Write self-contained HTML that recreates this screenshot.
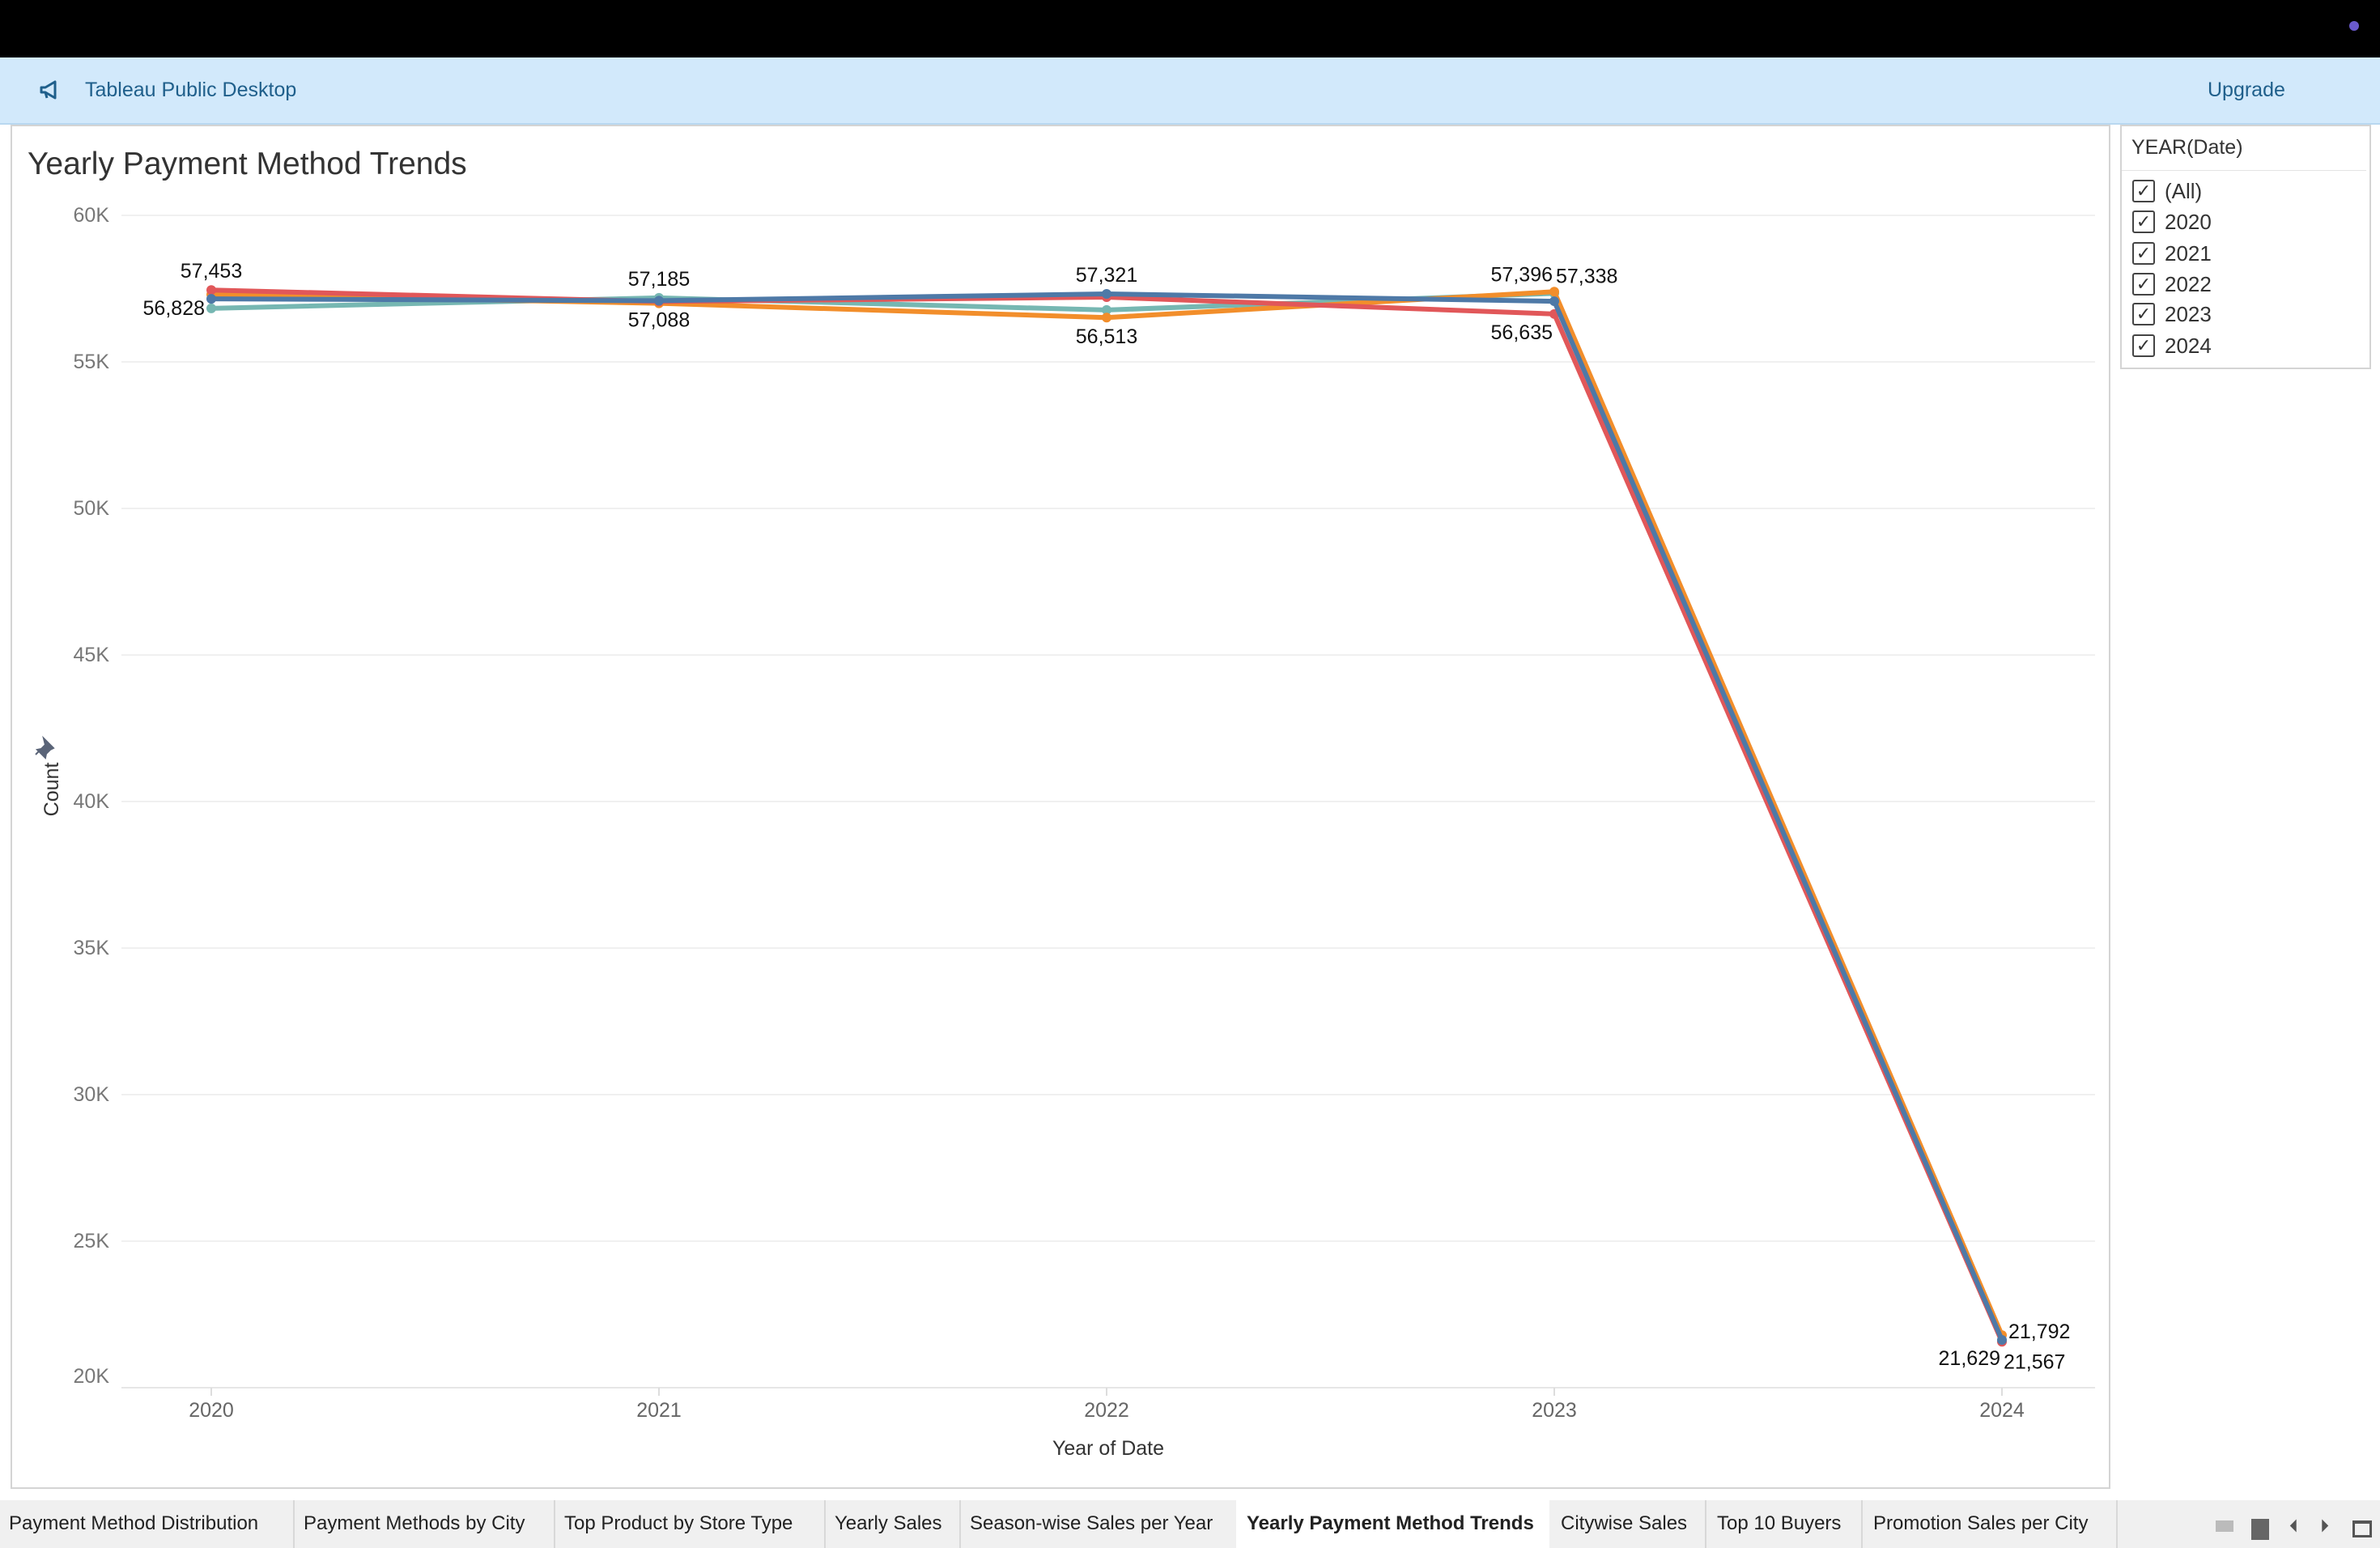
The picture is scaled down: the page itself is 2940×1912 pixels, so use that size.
<!DOCTYPE html>
<html><head><meta charset="utf-8"><style>
body{margin:0;width:2940px;height:1912px;position:relative;background:#fff;font-family:"Liberation Sans",sans-serif;overflow:hidden}
.abs{position:absolute}
.tab{position:absolute;top:1853px;height:59px;line-height:57px;font-size:24px;color:#222;white-space:nowrap}
.sep{position:absolute;top:1853px;width:2px;height:59px;background:#d8d8d8}
.item{position:absolute;left:2634px;font-size:26px;color:#333;height:30px;line-height:30px}
.cb{display:inline-block;width:24px;height:24px;border:2px solid #444;border-radius:3px;vertical-align:middle;margin-right:12px;position:relative;top:-2px;text-align:center;line-height:24px;font-size:22px}
</style></head><body>
<div class="abs" style="left:0;top:0;width:2940px;height:71px;background:#000"></div>
<div class="abs" style="left:2902px;top:26px;width:12px;height:12px;border-radius:6px;background:#6a5acd"></div>
<div class="abs" style="left:0;top:71px;width:2940px;height:81px;background:#d2e9fb;border-bottom:2px solid #b8d8f0"></div>
<svg class="abs" style="left:48px;top:99px" width="28" height="24" viewBox="0 0 28 24"><path d="M3 9h5l12-7v20L8 15H3z" fill="none" stroke="#1f5f8b" stroke-width="3" stroke-linejoin="round"/><path d="M8 15l2 7" stroke="#1f5f8b" stroke-width="3"/></svg>
<div class="abs" style="left:105px;top:97px;font-size:25px;color:#1f5f8b">Tableau Public Desktop</div>
<div class="abs" style="left:2727px;top:97px;font-size:25px;color:#1f5f8b">Upgrade</div>
<div class="abs" style="left:13px;top:154px;width:2590px;height:1681px;border:2px solid #d4d4d4"></div>
<div class="abs" style="left:34px;top:181px;font-size:39px;color:#333">Yearly Payment Method Trends</div>
<div class="abs" style="left:2619px;top:154px;width:306px;height:298px;border:2px solid #d4d4d4"></div>
<div class="abs" style="left:2633px;top:168px;font-size:25px;color:#333">YEAR(Date)</div>
<div class="abs" style="left:2621px;top:210px;width:302px;height:1px;background:#e4e4e4"></div>
<div class="item" style="top:221px"><span class="cb">✓</span>(All)</div>
<div class="item" style="top:259px"><span class="cb">✓</span>2020</div>
<div class="item" style="top:298px"><span class="cb">✓</span>2021</div>
<div class="item" style="top:336px"><span class="cb">✓</span>2022</div>
<div class="item" style="top:373px"><span class="cb">✓</span>2023</div>
<div class="item" style="top:412px"><span class="cb">✓</span>2024</div>

<svg class="abs" style="left:0;top:0" width="2940" height="1850" id="chart"></svg>

<div class="abs" style="left:0;top:1853px;width:2940px;height:59px;background:#f0f0f0"></div>
<div class="tab" style="left:11px">Payment Method Distribution</div>
<div class="sep" style="left:362px"></div>
<div class="tab" style="left:375px">Payment Methods by City</div>
<div class="sep" style="left:684px"></div>
<div class="tab" style="left:697px">Top Product by Store Type</div>
<div class="sep" style="left:1018px"></div>
<div class="tab" style="left:1031px">Yearly Sales</div>
<div class="sep" style="left:1185px"></div>
<div class="tab" style="left:1198px">Season-wise Sales per Year</div>
<div class="abs" style="left:1527px;top:1853px;width:387px;height:59px;background:#fff"></div>
<div class="tab" style="left:1540px;font-weight:bold">Yearly Payment Method Trends</div>
<div class="tab" style="left:1928px">Citywise Sales</div>
<div class="sep" style="left:2106px"></div>
<div class="tab" style="left:2121px">Top 10 Buyers</div>
<div class="sep" style="left:2299px"></div>
<div class="tab" style="left:2314px">Promotion Sales per City</div>
<div class="sep" style="left:2614px"></div>
<div class="abs" style="left:2737px;top:1878px;width:22px;height:14px;background:#bbb"></div>
<div class="abs" style="left:2781px;top:1876px;width:22px;height:26px;background:#666"></div>
<div class="abs" style="left:2828px;top:1872px;font-size:22px;color:#555">⏴</div>
<div class="abs" style="left:2866px;top:1872px;font-size:22px;color:#555">⏵</div>
<div class="abs" style="left:2906px;top:1878px;width:18px;height:14px;border:3px solid #555;border-top-width:4px"></div>

<script>
const years = ["2020","2021","2022","2023","2024"];
const seriesNames = ["teal","orange","red","blue"];
const tealVals   = [56828, 57185, 56770, 57338, 21600];
const orangeVals = [57300, 57000, 56513, 57396, 21792];
const redVals    = [57453, 57060, 57210, 56635, 21567];
const blueVals   = [57150, 57088, 57321, 57070, 21629];
const yTicks = [20000,25000,30000,35000,40000,45000,50000,55000,60000];
const yTickLabels = ["20K","25K","30K","35K","40K","45K","50K","55K","60K"];
const labelSeries = [2,0,0,3,3,1,1,0,2,1,3,2];
const labelYear   = [0,0,1,1,2,2,3,3,3,4,4,4];
const labelPlace  = ["above","left","above","below","above","below","aboveL","aboveR","belowL","right","belowL","belowR"];

const colors = ["#76b7b2","#f28e2b","#e15759","#4e79a7"];
const allVals = [tealVals, orangeVals, redVals, blueVals];
const svg = document.getElementById('chart');
const NS = "http://www.w3.org/2000/svg";
const x = i => 261 + i*553;
const y = v => 266 + (60000 - v) / 5000 * 181;
function mk(tag, attrs){const e=document.createElementNS(NS,tag);for(const k in attrs)e.setAttribute(k,attrs[k]);svg.appendChild(e);return e;}
yTicks.forEach((t,i)=>{
  const g = mk('line',{x1:150,x2:2588,y1:y(t),y2:y(t),stroke:i===0?'#e6e6e6':'#f0f0f0','stroke-width':2});
  
  
  const tx = mk('text',{x:135,y:y(t)-(i===0?14:0),'text-anchor':'end','dominant-baseline':'central','font-size':25,fill:'#777','font-family':'Liberation Sans, sans-serif'});
  tx.textContent = yTickLabels[i];
  
  
});
years.forEach((yr,i)=>{
  const tk = mk('line',{x1:x(i),x2:x(i),y1:y(20000),y2:y(20000)+10,stroke:'#ddd','stroke-width':2});
  
  
  const tx = mk('text',{x:x(i),y:1742,'text-anchor':'middle','dominant-baseline':'central','font-size':25,fill:'#666','font-family':'Liberation Sans, sans-serif'});
  tx.textContent = yr;
  
  
});
const xt = mk('text',{x:1369,y:1789,'text-anchor':'middle','dominant-baseline':'central','font-size':25,fill:'#333','font-family':'Liberation Sans, sans-serif'});
xt.textContent='Year of Date';


const yt = mk('text',{x:0,y:0,transform:'translate(64,975) rotate(-90)','text-anchor':'middle','dominant-baseline':'central','font-size':25,fill:'#333','font-family':'Liberation Sans, sans-serif'});
yt.textContent='Count';


const pin = mk('path',{d:'M54 912 l12 12 l-4 2 l-5 5 l-1 5 l-10 -10 l5 -1 l5 -5 z M50 926 l-6 6',fill:'#5a6478',stroke:'#5a6478','stroke-width':2});


allVals.forEach((vals,s)=>{
  const pl = mk('polyline',{points:vals.map((v,i)=>x(i)+','+y(v)).join(' '),fill:'none',stroke:colors[s],'stroke-width':6,'stroke-linejoin':'round'});
  
  
  vals.forEach((v,i)=>{
    const c = mk('circle',{cx:x(i),cy:y(v),r:6,fill:colors[s]});
    
    
  });
});
labelSeries.forEach((s,k)=>{
  const i = labelYear[k], v = allVals[s][i];
  let px=x(i), py=y(v), anchor='middle', p=labelPlace[k];
  if(p==='above'){py-=23;}
  else if(p==='below'){py+=24;}
  else if(p==='left'){px-=8;anchor='end';}
  else if(p==='aboveL'){px-=2;py-=21;anchor='end';}
  else if(p==='aboveR'){px+=2;py-=21;anchor='start';}
  else if(p==='belowL'){px-=2;py+=23;anchor='end';}
  else if(p==='belowR'){px+=2;py+=25;anchor='start';}
  else if(p==='right'){px+=8;py-=4;anchor='start';}
  const t = mk('text',{x:px,y:py,'text-anchor':anchor,'dominant-baseline':'central','font-size':25,fill:'#111','font-family':'Liberation Sans, sans-serif'});
  t.textContent = v.toLocaleString('en-US');
  
  
});
</script>
</body></html>
